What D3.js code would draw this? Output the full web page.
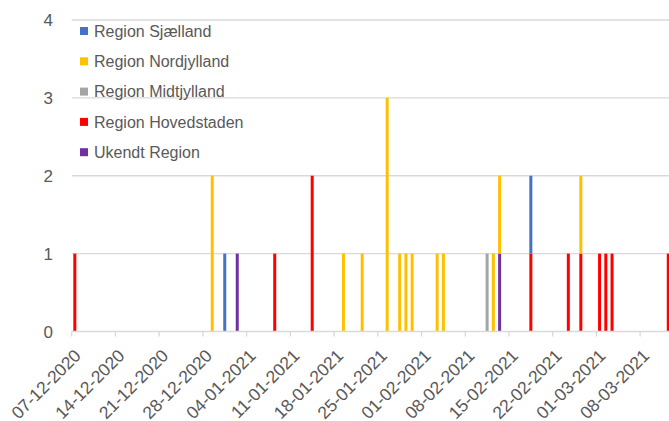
<!DOCTYPE html>
<html lang="da">
  <head>
    <meta charset="UTF-8">
    <title>Regioner</title>
    <style>
body{
    margin: 0;
    background: #fff;
}
text{
    font-family: "Liberation Sans", Arial, sans-serif;
    fill: #595959;
}
    </style>
  </head>
  <body>
    <script src="https://d3js.org/d3.v7.min.js" charset="UTF-8"></script>
    <script>
// first and last day on the axis (one bar slot per day)
var first_day = "07-12-2020", last_day = "12-03-2021";
var y_ticks = [0, 1, 2, 3, 4];

// series in stack order, bottom to top
var series_names = ["Ukendt Region", "Region Hovedstaden", "Region Midtjylland", "Region Nordjylland", "Region Sjælland"];
var series_colors = ["#7030a0", "#ff0000", "#a5a5a5", "#ffc000", "#4472c4"];

var ukendt = [["02-01-2021", 1], ["13-02-2021", 1]];
var hovedstaden = [["07-12-2020", 1], ["08-01-2021", 1], ["14-01-2021", 2], ["18-02-2021", 1], ["24-02-2021", 1],
                   ["26-02-2021", 1], ["01-03-2021", 1], ["02-03-2021", 1], ["03-03-2021", 1], ["12-03-2021", 1]];
var midtjylland = [["11-02-2021", 1]];
var nordjylland = [["29-12-2020", 2], ["19-01-2021", 1], ["22-01-2021", 1], ["26-01-2021", 3], ["28-01-2021", 1],
                   ["29-01-2021", 1], ["30-01-2021", 1], ["03-02-2021", 1], ["04-02-2021", 1], ["12-02-2021", 1],
                   ["13-02-2021", 1], ["26-02-2021", 1]];
var sjaelland = [["31-12-2020", 1], ["18-02-2021", 1]];

var series_values = [ukendt, hovedstaden, midtjylland, nordjylland, sjaelland];

var width = 669, height = 421;
var plot_left = 71.7, plot_right = 671.4, plot_bottom = 331.5, plot_top = 20;
var fmt = d3.timeFormat("%d-%m-%Y"), parse = d3.timeParse("%d-%m-%Y");

var days = d3.timeDay.range(parse(first_day), d3.timeDay.offset(parse(last_day), 1)).map(fmt);

// one row per day with a column per series
var table = days.map(function(d){
    var row = {day: d};
    series_names.forEach(function(name, i){
        var hit = series_values[i].find(function(p){ return p[0] == d; });
        row[name] = hit ? hit[1] : 0;
    });
    return row;
});

var svg = d3.select("body").append("svg")
            .attr("width", width)
            .attr("height", height);

var x = d3.scaleBand()
          .domain(days)
          .range([plot_left, plot_right])
          .paddingInner(0.52)
          .paddingOuter(0.26);

var y = d3.scaleLinear()
          .domain([0, 4])
          .range([plot_bottom, plot_top]);

// grid
svg.append("g").selectAll("line")
   .data(y_ticks.slice(1))
   .enter().append("line")
   .attr("x1", plot_left).attr("x2", width)
   .attr("y1", function(d){ return y(d); })
   .attr("y2", function(d){ return y(d); })
   .attr("stroke", "#d9d9d9")
   .attr("stroke-width", 1.3);

svg.append("g").selectAll("text")
   .data(y_ticks)
   .enter().append("text")
   .attr("x", 53)
   .attr("y", function(d){ return y(d); })
   .attr("dy", "0.36em")
   .attr("text-anchor", "end")
   .style("font-size", "17px")
   .text(function(d){ return d; });

// bars
var stack = d3.stack().keys(series_names)(table);

svg.append("g").selectAll("g")
   .data(stack)
   .enter().append("g")
   .attr("fill", function(d, i){ return series_colors[i]; })
   .selectAll("rect")
   .data(function(d){ return d.filter(function(v){ return v[1] > v[0]; }); })
   .enter().append("rect")
   .attr("x", function(d){ return x(d.data.day); })
   .attr("width", x.bandwidth())
   .attr("y", function(d){ return y(d[1]); })
   .attr("height", function(d){ return y(d[0]) - y(d[1]); });

// x axis at category boundaries, one label per week
var week_days = days.filter(function(d, i){ return i % 7 == 0; });
var boundary = function(d){ return x(d) - x.step() * x.paddingOuter(); };

svg.append("line")
   .attr("x1", plot_left).attr("x2", width)
   .attr("y1", plot_bottom).attr("y2", plot_bottom)
   .attr("stroke", "#d9d9d9")
   .attr("stroke-width", 1.3);

svg.append("g").selectAll("line")
   .data(week_days)
   .enter().append("line")
   .attr("x1", boundary).attr("x2", boundary)
   .attr("y1", plot_bottom).attr("y2", plot_bottom + 5)
   .attr("stroke", "#d9d9d9")
   .attr("stroke-width", 1.3);

svg.append("g").selectAll("text")
   .data(week_days)
   .enter().append("text")
   .attr("transform", function(d){ return "translate(" + (boundary(d) + 1) + "," + (plot_bottom + 16) + ") rotate(-45)"; })
   .attr("dy", "0.75em")
   .attr("text-anchor", "end")
   .style("font-size", "17.5px")
   .text(function(d){ return d; });

// legend, top row first
var legend = svg.append("g").selectAll("g")
                .data(series_names.slice().reverse())
                .enter().append("g")
                .attr("transform", function(d, i){ return "translate(80," + (31 + i * 30.3) + ")"; });

legend.append("rect")
      .attr("x", 0).attr("y", -4)
      .attr("width", 8).attr("height", 8)
      .attr("fill", function(d){ return series_colors[series_names.indexOf(d)]; });

legend.append("text")
      .attr("x", 14)
      .attr("dy", "0.36em")
      .style("font-size", "16px")
      .text(function(d){ return d; });
    </script>
  </body>
</html>
